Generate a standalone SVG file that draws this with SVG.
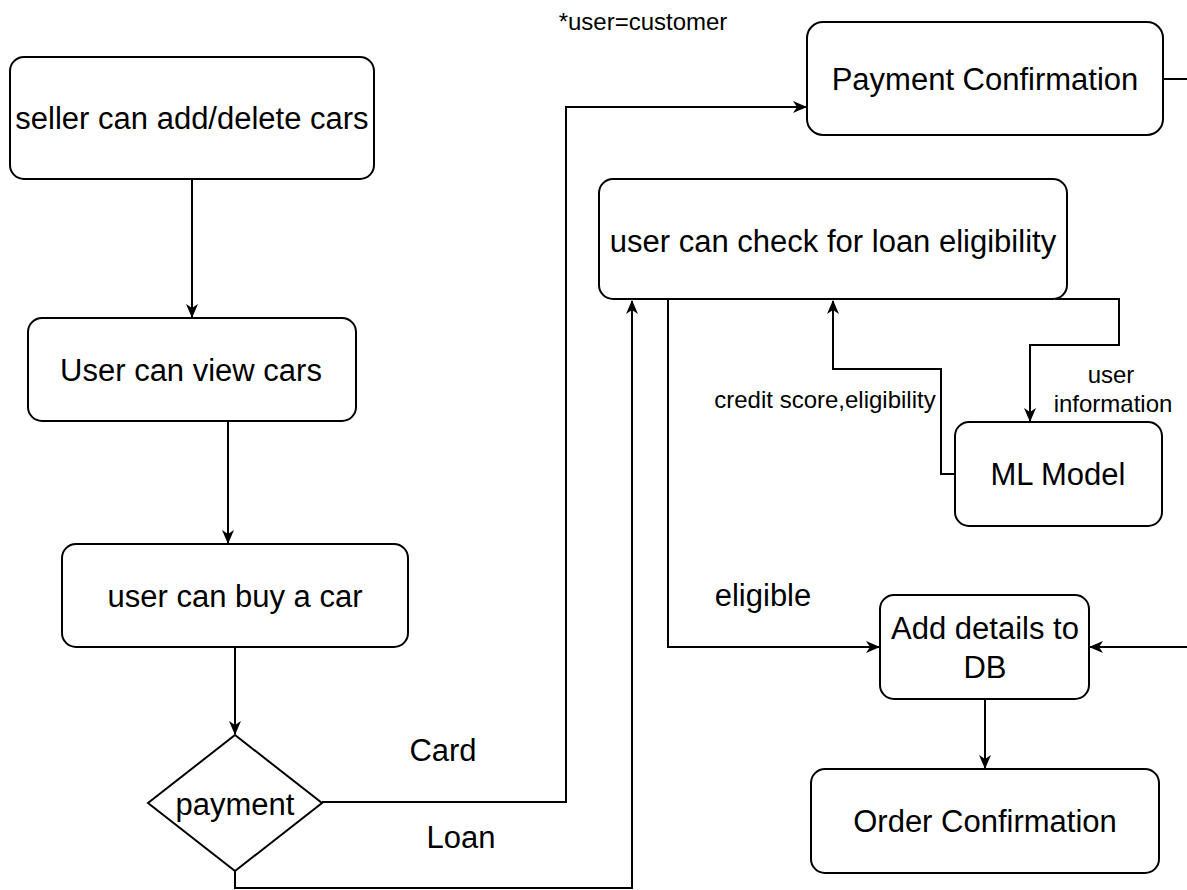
<svg xmlns="http://www.w3.org/2000/svg" width="1187" height="890" viewBox="0 0 1187 890">
<style>
.n{fill:#fff;stroke:#000;stroke-width:2}
.t{font-family:"Liberation Sans",Arial,sans-serif;font-size:31px;fill:#000;text-anchor:middle;dominant-baseline:central}
.s{font-family:"Liberation Sans",Arial,sans-serif;font-size:24px;fill:#000;text-anchor:middle;dominant-baseline:central}
.c{fill:none;stroke:#000;stroke-width:2}
</style>
<defs>
<marker id="a" viewBox="0 0 14 12" refX="13" refY="6" markerWidth="14" markerHeight="12" markerUnits="userSpaceOnUse" orient="auto"><path d="M0,0 L14,6 L0,12 L4,6 Z" fill="#000"/></marker>
</defs>
<rect width="1187" height="890" fill="#fff"/>
<g id="connectors">
<path class="c" d="M192,179 V317" marker-end="url(#a)"/>
<path class="c" d="M228,421 V543" marker-end="url(#a)"/>
<path class="c" d="M235,647 V734" marker-end="url(#a)"/>
<path class="c" d="M322,802 H566 V107 H806" marker-end="url(#a)"/>
<path class="c" d="M235,871 V888 H632 V301" marker-end="url(#a)"/>
<path class="c" d="M1163,79 H1187"/>
<path class="c" d="M955,474 H941 V369 H833 V301" marker-end="url(#a)"/>
<path class="c" d="M1055,299 H1119 V345 H1030 V421" marker-end="url(#a)"/>
<path class="c" d="M668,299 V647 H879" marker-end="url(#a)"/>
<path class="c" d="M1187,647 H1090" marker-end="url(#a)"/>
<path class="c" d="M985,699 V768" marker-end="url(#a)"/>
</g>
<g id="labels">
<text class="s" x="643" y="21">*user=customer</text>
<text class="t" x="443" y="750">Card</text>
<text class="t" x="461" y="837">Loan</text>
<text class="t" x="763" y="595">eligible</text>
<text class="s" x="825" y="399">credit score,eligibility</text>
<text class="s" x="1111" y="374">user</text>
<text class="s" x="1113" y="403">information</text>
</g>
<g id="seller"><rect class="n" x="10" y="57" width="364" height="122" rx="14"/><text class="t" x="192" y="118">seller can add/delete cars</text></g>
<g id="view"><rect class="n" x="28" y="318" width="328" height="103" rx="14"/><text class="t" x="191" y="370">User can view cars</text></g>
<g id="buy"><rect class="n" x="62" y="544" width="346" height="103" rx="14"/><text class="t" x="235" y="596">user can buy a car</text></g>
<g id="payment"><path class="n" d="M235,735 L322,803 L235,871 L148,803 Z"/><text class="t" x="235" y="804">payment</text></g>
<g id="paymentConfirmation"><rect class="n" x="807" y="22" width="356" height="113" rx="16"/><text class="t" x="985" y="79">Payment Confirmation</text></g>
<g id="loan"><rect class="n" x="599" y="179" width="468" height="120" rx="14"/><text class="t" x="833" y="241">user can check for loan eligibility</text></g>
<g id="ml"><rect class="n" x="955" y="422" width="207" height="104" rx="14"/><text class="t" x="1058" y="474">ML Model</text></g>
<g id="db"><rect class="n" x="880" y="595" width="209" height="104" rx="14"/><text class="t" x="985" y="628">Add details to</text><text class="t" x="985" y="667">DB</text></g>
<g id="order"><rect class="n" x="811" y="769" width="348" height="104" rx="14"/><text class="t" x="985" y="821">Order Confirmation</text></g>
</svg>
